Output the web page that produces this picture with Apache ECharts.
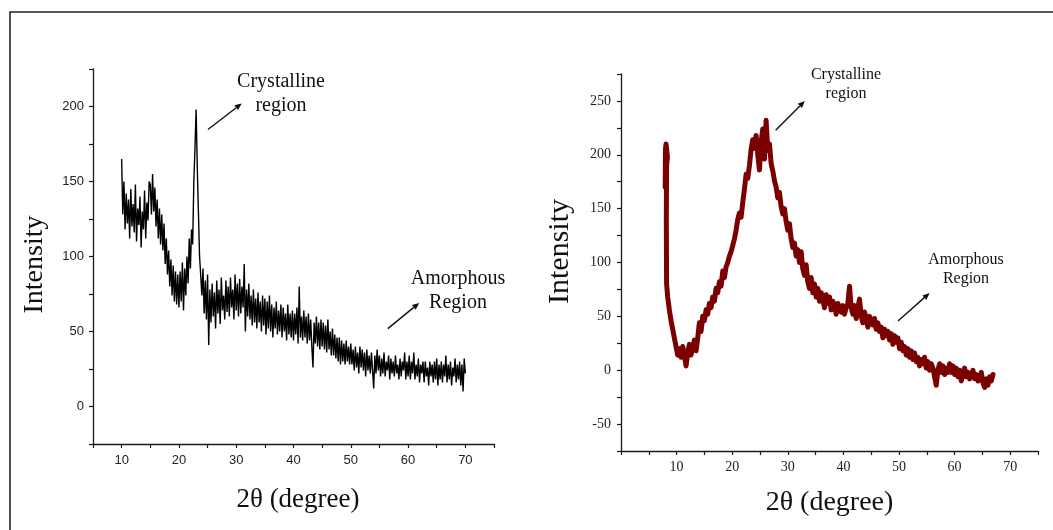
<!DOCTYPE html>
<html>
<head>
<meta charset="utf-8">
<script src="https://cdn.jsdelivr.net/npm/echarts@6/dist/echarts.min.js"></script>
<style>html,body{margin:0;padding:0;background:#fff}#c{width:1053px;height:530px}</style>
</head>
<body>
<div id="c"></div>
<script>
// ---- Left panel: 2θ from 10 to 70, step 0.2 ----
const leftStart = 10.0;
const leftStep = 0.2;
const leftIntensity = [
  165,128,150,118,142,122,138,112,145,120,135,116,148,110,132,121,140,106,130,118,144,112,136,124,150,
  148,128,155,130,146,120,138,112,132,108,128,104,122,95,112,88,104,80,98,74,94,70,90,68,88,
  66,90,70,96,64,92,74,100,82,112,92,118,108,150,172,198,160,130,100,88,74,92,62,84,58,
  88,41,78,56,82,60,76,52,84,62,78,55,86,64,74,58,84,63,80,60,86,66,78,58,88,
  64,82,60,85,62,80,66,95,50,78,60,82,58,74,54,78,56,72,52,76,56,70,50,74,54,
  72,48,70,52,74,50,68,46,66,52,70,48,64,50,68,46,66,50,62,44,68,48,62,46,64,
  44,62,48,66,42,80,46,60,44,64,46,60,42,62,44,58,40,26,56,42,60,40,56,38,58,
  40,56,38,54,36,58,38,50,34,52,34,48,32,46,30,46,28,44,30,42,28,44,30,40,28,
  42,28,38,24,40,26,36,22,40,26,38,24,36,20,38,24,34,22,36,24,12,34,22,38,24,
  34,20,32,22,36,20,30,24,34,18,32,22,30,20,34,22,28,18,32,20,30,24,36,18,30,
  20,34,18,30,22,36,18,28,20,32,16,28,22,30,16,30,20,26,14,30,20,28,16,30,18,
  32,14,28,18,30,16,28,20,34,16,28,18,30,14,26,20,32,16,28,18,30,14,28,10,32,22
];

// ---- Right panel: initial spike (2θ, intensity) then uniform scan from 8.4, step 0.3 ----
const rightHeadX = [7.95, 8.0, 8.1, 8.35, 8.2, 8.15, 8.2];
const rightHeadY = [170, 205, 210, 198, 190, 140, 80];
const rightStart = 8.4;
const rightStep = 0.3;
const rightIntensity = [
  68,56,46,38,30,22,14,20,12,22,14,4,16,24,14,22,28,18,30,44,
  36,50,46,56,52,62,58,68,64,76,72,82,78,92,86,96,100,106,110,116,
  122,130,140,146,142,156,168,182,178,190,205,214,206,218,200,186,212,224,196,232,
  204,210,192,185,176,170,160,165,152,145,150,138,130,136,122,114,118,106,112,100,
  110,94,88,98,82,76,86,72,80,68,76,64,72,66,58,70,62,68,56,64,
  60,52,62,58,54,60,52,58,62,78,58,52,60,48,58,66,50,44,54,48,
  40,50,46,42,48,38,44,36,40,30,38,32,36,28,34,24,32,26,30,20,
  26,18,22,14,20,12,18,10,16,8,12,4,10,6,12,2,8,0,6,2,
  -6,-14,0,6,-2,4,-4,2,-2,6,-2,4,-4,2,-6,0,-10,-4,2,-6,
  -2,-8,-4,0,-8,-4,-10,-6,-2,-12,-16,-8,-14,-6,-10,-4
];

// tick label sets
const leftXLabels = [10, 20, 30, 40, 50, 60, 70];
const leftYLabels = [0, 50, 100, 150, 200];
const rightXLabels = [10, 20, 30, 40, 50, 60, 70];
const rightYLabels = [-50, 0, 50, 100, 150, 200, 250];

const leftData = leftIntensity.map((v, i) => [+(leftStart + i * leftStep).toFixed(2), v]);
const rightData = rightHeadX.map((x, i) => [x, rightHeadY[i]])
  .concat(rightIntensity.map((v, i) => [+(rightStart + i * rightStep).toFixed(2), v]));

const serif = 'Liberation Serif';
const sans = 'Liberation Sans';
const ink = '#1a1a1a';

function arrow(x1, y1, x2, y2) {
  const a = Math.atan2(y2 - y1, x2 - x1);
  const L = 7, W = 3;
  const bx = x2 - L * Math.cos(a), by = y2 - L * Math.sin(a);
  const px = -Math.sin(a) * W, py = Math.cos(a) * W;
  return [
    { type: 'line', shape: { x1, y1, x2: bx, y2: by }, style: { stroke: '#111', lineWidth: 1.4 }, silent: true },
    { type: 'polygon', shape: { points: [[x2, y2], [bx + px, by + py], [bx - px, by - py]] }, style: { fill: '#111' }, silent: true }
  ];
}
function label(text, x, y, size) {
  return { type: 'text', x, y, silent: true,
    style: { text, fontFamily: serif, fontSize: size, fill: '#111', align: 'center', verticalAlign: 'middle' } };
}

const chart = echarts.init(document.getElementById('c'), null, { renderer: 'canvas' });
chart.setOption({
  animation: false,
  backgroundColor: '#fff',
  grid: [
    { left: 93, top: 69, width: 401, height: 375 },
    { left: 621, top: 74, width: 417, height: 377 }
  ],
  xAxis: [
    {
      gridIndex: 0, type: 'value', min: 5, max: 75, interval: 5,
      name: '2θ (degree)', nameLocation: 'middle', nameGap: 42,
      nameTextStyle: { fontFamily: serif, fontSize: 27, color: '#111', padding: [0, 0, 0, 9] },
      axisLine: { onZero: false, lineStyle: { color: ink, width: 1.3 } },
      axisTick: { inside: false, length: 4, lineStyle: { color: ink, width: 1.2 } },
      splitLine: { show: false },
      axisLabel: { margin: 10, fontFamily: sans, fontSize: 13, color: '#222',
        formatter: v => leftXLabels.includes(v) ? String(v) : '' }
    },
    {
      gridIndex: 1, type: 'value', min: 0, max: 75, interval: 5,
      name: '2θ (degree)', nameLocation: 'middle', nameGap: 38,
      nameTextStyle: { fontFamily: serif, fontSize: 28, color: '#111' },
      axisLine: { onZero: false, lineStyle: { color: ink, width: 1.3 } },
      axisTick: { inside: false, length: 4, lineStyle: { color: ink, width: 1.2 } },
      splitLine: { show: false },
      axisLabel: { margin: 9, fontFamily: serif, fontSize: 14, color: '#222',
        formatter: v => rightXLabels.includes(v) ? String(v) : '' }
    }
  ],
  yAxis: [
    {
      gridIndex: 0, type: 'value', min: -25, max: 225, interval: 25,
      name: 'Intensity', nameLocation: 'middle', nameGap: 44,
      nameTextStyle: { fontFamily: serif, fontSize: 28, color: '#111', padding: [0, 16, 0, 0] },
      axisLine: { show: true, onZero: false, lineStyle: { color: ink, width: 1.3 } },
      axisTick: { show: true, inside: false, length: 4, lineStyle: { color: ink, width: 1.2 } },
      splitLine: { show: false },
      axisLabel: { margin: 9, fontFamily: sans, fontSize: 13, color: '#222',
        formatter: v => leftYLabels.includes(v) ? String(v) : '' }
    },
    {
      gridIndex: 1, type: 'value', min: -75, max: 275, interval: 25,
      name: 'Intensity', nameLocation: 'middle', nameGap: 46,
      nameTextStyle: { fontFamily: serif, fontSize: 30, color: '#111', padding: [0, 0, 0, 22] },
      axisLine: { show: true, onZero: false, lineStyle: { color: ink, width: 1.3 } },
      axisTick: { show: true, inside: false, length: 4, lineStyle: { color: ink, width: 1.2 } },
      splitLine: { show: false },
      axisLabel: { margin: 10, fontFamily: serif, fontSize: 14, color: '#222',
        formatter: v => rightYLabels.includes(v) ? String(v) : '' }
    }
  ],
  series: [
    {
      type: 'line', xAxisIndex: 0, yAxisIndex: 0, data: leftData,
      showSymbol: false, symbol: 'none',
      lineStyle: { color: '#000', width: 1.4 }
    },
    {
      type: 'line', xAxisIndex: 1, yAxisIndex: 1, data: rightData,
      showSymbol: false, symbol: 'none',
      lineStyle: { color: '#7b0000', width: 5, join: 'round', cap: 'round' }
    }
  ],
  graphic: [
    { type: 'polyline', silent: true, shape: { points: [[10, 530], [10, 12], [1053, 12]] },
      style: { stroke: '#222', lineWidth: 1.6, fill: null } },
    label('Crystalline', 281, 82, 20),
    label('region', 281, 106, 20),
    label('Amorphous', 458, 279, 20),
    label('Region', 458, 303, 20),
    label('Crystalline', 846, 75, 16),
    label('region', 846, 94, 16),
    label('Amorphous', 966, 260, 16),
    label('Region', 966, 279, 16),
    ...arrow(208, 129.5, 241.7, 103.4),
    ...arrow(387.8, 328.6, 419.2, 302.9),
    ...arrow(775.6, 130.2, 804.8, 101),
    ...arrow(898, 320.9, 929.6, 293)
  ]
});
</script>
</body>
</html>
